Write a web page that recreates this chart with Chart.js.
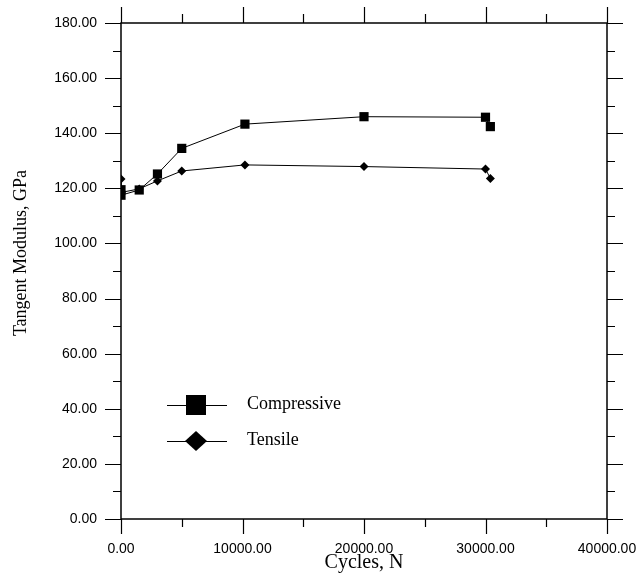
<!DOCTYPE html>
<html lang="en">
<head>
<meta charset="utf-8">
<title>Tangent Modulus vs Cycles</title>
<script src="https://cdn.jsdelivr.net/npm/chart.js@4.4.1/dist/chart.umd.min.js"></script>
<style>
    html, body { margin: 0; padding: 0; background: #fff; }
    canvas { display: block; }
</style>
</head>
<body>
<canvas id="modulusChart" width="639" height="582"></canvas>
<script>
// Data
const compressiveCycles = [0, 0, 1500, 3000, 5000, 10200, 20000, 30000, 30400];
const compressiveModulus = [119.5, 117.5, 119.4, 125.2, 134.5, 143.3, 146.0, 145.8, 142.4];

const tensileCycles = [0, 0, 1500, 3000, 5000, 10200, 20000, 30000, 30400];
const tensileModulus = [123.4, 118.5, 119.8, 122.7, 126.3, 128.5, 127.9, 127.0, 123.6];

const seriesLabels = ['Compressive', 'Tensile'];
const xTicks = [0, 10000, 20000, 30000, 40000];
const yTicks = [0, 20, 40, 60, 80, 100, 120, 140, 160, 180];

const xTitle = 'Cycles, N';
const yTitle = 'Tangent Modulus, GPa';

const SERIF = '"Liberation Serif", "Times New Roman", serif';
const SANS = '"Liberation Sans", Arial, sans-serif';

function toPoints(xs, ys) {
    return xs.map((x, i) => ({ x: x, y: ys[i] }));
}

// Frame, outward major/minor ticks on all four sides
const frameTicks = {
    id: 'frameTicks',
    beforeDatasetsDraw(chart) {
        const { ctx, chartArea: a, scales: { x, y } } = chart;
        ctx.save();
        ctx.strokeStyle = '#000';
        ctx.lineWidth = 1.5;
        ctx.strokeRect(a.left, a.top, a.right - a.left, a.bottom - a.top);

        ctx.lineWidth = 1.2;
        ctx.beginPath();
        for (let v = 0; v <= 40000; v += 5000) {
            const px = Math.round(x.getPixelForValue(v)) + 0.5;
            const len = v % 10000 === 0 ? 15 : 8;
            ctx.moveTo(px, a.bottom); ctx.lineTo(px, a.bottom + len);
            ctx.moveTo(px, a.top); ctx.lineTo(px, a.top - len - 1);
        }
        for (let v = 0; v <= 180; v += 10) {
            const py = Math.round(y.getPixelForValue(v)) + 0.5;
            const len = v % 20 === 0 ? 16 : 8;
            ctx.moveTo(a.left, py); ctx.lineTo(a.left - len, py);
            ctx.moveTo(a.right, py); ctx.lineTo(a.right + len, py);
        }
        ctx.stroke();
        ctx.restore();
    },
    afterDraw(chart) {
        const { ctx, chartArea: a } = chart;
        // rotated y title, sits a bit above the plot centre
        ctx.save();
        ctx.fillStyle = '#000';
        ctx.font = '18px ' + SERIF;
        ctx.textAlign = 'center';
        ctx.textBaseline = 'middle';
        ctx.translate(21, (a.top + a.bottom) / 2 - 18);
        ctx.rotate(-Math.PI / 2);
        ctx.fillText(yTitle, 0, 0);
        ctx.restore();
    }
};

// Legend box inside the plot, lower left
const insideLegend = {
    id: 'insideLegend',
    afterDraw(chart) {
        const { ctx, chartArea: a } = chart;
        ctx.save();
        chart.data.datasets.forEach((ds, i) => {
            const cy = a.top + 382 + i * 36;
            const cx = a.left + 75;
            ctx.strokeStyle = '#000';
            ctx.lineWidth = 1;
            ctx.beginPath();
            ctx.moveTo(cx - 29, cy + 0.5);
            ctx.lineTo(cx + 31, cy + 0.5);
            ctx.stroke();
            ctx.fillStyle = '#000';
            ctx.beginPath();
            if (ds.pointStyle === 'rect') {
                ctx.rect(cx - 10, cy - 10, 20, 20);
            } else {
                ctx.moveTo(cx - 11, cy);
                ctx.lineTo(cx, cy - 10);
                ctx.lineTo(cx + 11, cy);
                ctx.lineTo(cx, cy + 10);
                ctx.closePath();
            }
            ctx.fill();
            ctx.font = '18px ' + SERIF;
            ctx.textAlign = 'left';
            ctx.textBaseline = 'middle';
            ctx.fillText(ds.label, cx + 51, cy - 1);
        });
        ctx.restore();
    }
};

// keep the label overflow from pushing the plot area around
function noScalePadding(s) {
    s.paddingTop = 0;
    s.paddingBottom = 0;
    s.paddingLeft = 0;
    s.paddingRight = 0;
}

class ModulusChart {
    constructor(canvasId) {
        this.canvas = document.getElementById(canvasId);
        this.init();
    }

    init() {
        const ctx = this.canvas.getContext('2d');
        this.chart = new Chart(ctx, {
            type: 'scatter',
            data: {
                datasets: [
                    this.makeSeries(seriesLabels[0], compressiveCycles, compressiveModulus, 'rect', 6.5),
                    this.makeSeries(seriesLabels[1], tensileCycles, tensileModulus, 'rectRot', 4.5)
                ]
            },
            options: {
                responsive: false,
                animation: false,
                devicePixelRatio: 1,
                layout: { padding: { top: 23, right: 32, bottom: 0, left: 0 } },
                plugins: {
                    legend: { display: false },
                    tooltip: { enabled: false }
                },
                scales: {
                    x: {
                        type: 'linear',
                        min: 0,
                        max: 40000,
                        afterBuildTicks: s => { s.ticks = xTicks.map(v => ({ value: v })); },
                        afterFit: s => { s.height = 63; noScalePadding(s); },
                        grid: { display: false, drawTicks: false },
                        border: { display: false },
                        ticks: {
                            color: '#000',
                            font: { family: SANS, size: 14 },
                            padding: 22,
                            maxRotation: 0,
                            callback: v => Number(v).toFixed(2)
                        },
                        title: {
                            display: true,
                            text: xTitle,
                            color: '#000',
                            font: { family: SERIF, size: 20 },
                            padding: { top: 0, bottom: 7 }
                        }
                    },
                    y: {
                        type: 'linear',
                        min: 0,
                        max: 180,
                        afterBuildTicks: s => { s.ticks = yTicks.map(v => ({ value: v })); },
                        afterFit: s => { s.width = 121; noScalePadding(s); },
                        grid: { display: false, drawTicks: false },
                        border: { display: false },
                        ticks: {
                            color: '#000',
                            font: { family: SANS, size: 14 },
                            padding: 24,
                            callback: v => Number(v).toFixed(2)
                        }
                    }
                }
            },
            plugins: [frameTicks, insideLegend]
        });
    }

    makeSeries(label, xs, ys, style, radius) {
        return {
            label: label,
            data: toPoints(xs, ys),
            showLine: true,
            tension: 0,
            borderColor: '#000',
            borderWidth: 1,
            backgroundColor: '#000',
            pointStyle: style,
            pointRadius: radius,
            pointBorderWidth: 0,
            pointBackgroundColor: '#000'
        };
    }
}

document.addEventListener('DOMContentLoaded', () => {
    window.modulusChart = new ModulusChart('modulusChart');
});
</script>
</body>
</html>
